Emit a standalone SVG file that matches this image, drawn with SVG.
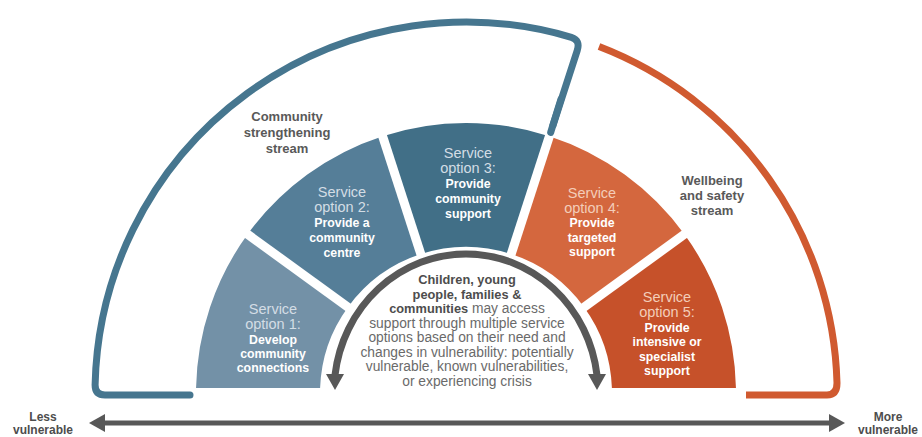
<svg xmlns="http://www.w3.org/2000/svg" width="922" height="437" viewBox="0 0 922 437">
  <style>
    text { font-family: "Liberation Sans", Arial, sans-serif; text-anchor: middle; }
    .lbl { font-size: 13px; font-weight: bold; fill: #595959; }
    .end { font-size: 12px; font-weight: bold; fill: #4d4d4d; }
    .svc { font-size: 14.5px; fill: #d3dde5; }
    .svc-o { font-size: 14.5px; fill: #f3cdb9; }
    .act { font-size: 12.3px; font-weight: bold; fill: #ffffff; }
    .mid { font-size: 13.8px; fill: #6a6a6a; }
    .midb { font-size: 12.8px; font-weight: bold; fill: #4d4d4d; }
    .gap { stroke: #ffffff; stroke-width: 9; }
  </style>

  <rect width="922" height="437" fill="#ffffff"/>

  <!-- stream outlines -->
  <g id="community-stream">
    <path d="M190 395 H105 Q95.1 395 95.1 385 A371 371 0 0 1 571.4 37.3 Q580.6 40.2 577.2 50.6 L550.7 132.4" fill="none" stroke="#46768f" stroke-width="7" stroke-linecap="round" stroke-linejoin="round"/>
    <text class="lbl" x="287" y="121">Community</text>
    <text class="lbl" x="287" y="137">strengthening</text>
    <text class="lbl" x="287" y="153">stream</text>
  </g>
  <g id="wellbeing-stream">
    <path d="M599 46.6 A371 371 0 0 1 837 383 Q837 395 827 395 H746" fill="none" stroke="#d05a30" stroke-width="7" stroke-linejoin="round"/>
    <text class="lbl" x="712" y="185">Wellbeing</text>
    <text class="lbl" x="712" y="200">and safety</text>
    <text class="lbl" x="712" y="215">stream</text>
  </g>

  <!-- service options -->
  <g id="option-1">
    <path d="M196.05 388 A270 270 0 0 1 247.6 234.3 L347.9 307.2 A146 146 0 0 0 320.1 388 Z" fill="#7391a7"/>
    <text class="svc" x="273" y="314">Service</text>
    <text class="svc" x="273" y="329">option 1:</text>
    <text class="act" x="273" y="344">Develop</text>
    <text class="act" x="273" y="358">community</text>
    <text class="act" x="273" y="372">connections</text>
  </g>
  <g id="option-2">
    <path d="M247.6 234.3 A270 270 0 0 1 382.6 136.2 L420.9 254.1 A146 146 0 0 0 347.9 307.2 Z" fill="#557e98"/>
    <text class="svc" x="342" y="197">Service</text>
    <text class="svc" x="342" y="212">option 2:</text>
    <text class="act" x="342" y="227">Provide a</text>
    <text class="act" x="342" y="242">community</text>
    <text class="act" x="342" y="257">centre</text>
  </g>
  <g id="option-3">
    <path d="M382.6 136.2 A270 270 0 0 1 549.4 136.2 L511.1 254.1 A146 146 0 0 0 420.9 254.1 Z" fill="#416f87"/>
    <text class="svc" x="468" y="158">Service</text>
    <text class="svc" x="468" y="173">option 3:</text>
    <text class="act" x="468" y="188">Provide</text>
    <text class="act" x="468" y="203">community</text>
    <text class="act" x="468" y="218">support</text>
  </g>
  <g id="option-4">
    <path d="M549.4 136.2 A270 270 0 0 1 684.4 234.3 L584.1 307.2 A146 146 0 0 0 511.1 254.1 Z" fill="#d4673e"/>
    <text class="svc-o" x="592" y="198">Service</text>
    <text class="svc-o" x="592" y="212.5">option 4:</text>
    <text class="act" x="592" y="227">Provide</text>
    <text class="act" x="592" y="241.5">targeted</text>
    <text class="act" x="592" y="256">support</text>
  </g>
  <g id="option-5">
    <path d="M684.4 234.3 A270 270 0 0 1 735.95 388 L611.9 388 A146 146 0 0 0 584.1 307.2 Z" fill="#c6512a"/>
    <text class="svc-o" x="667" y="302">Service</text>
    <text class="svc-o" x="667" y="317">option 5:</text>
    <text class="act" x="667" y="332">Provide</text>
    <text class="act" x="667" y="346">intensive or</text>
    <text class="act" x="667" y="361">specialist</text>
    <text class="act" x="667" y="375">support</text>
  </g>

  <!-- white gaps between the options -->
  <g id="gaps">
    <line class="gap" x1="352.7" y1="310.7" x2="239.5" y2="228.4"/>
    <line class="gap" x1="422.7" y1="259.9" x2="379.5" y2="126.7"/>
    <line class="gap" x1="509.3" y1="259.9" x2="552.5" y2="126.7"/>
    <line class="gap" x1="579.3" y1="310.7" x2="692.5" y2="228.4"/>
  </g>
  <!-- stream divider running into the gap between options 3 and 4 -->
  <path d="M561 99 L550.7 132.4" stroke="#46768f" stroke-width="7" stroke-linecap="round"/>

  <!-- central pathway -->
  <g id="pathway">
    <path d="M335 375 A132 138 0 0 1 597 375" fill="none" stroke="#585858" stroke-width="7"/>
    <polygon points="326,374 344,374 335,390" fill="#585858"/>
    <polygon points="588,374 606,374 597,390" fill="#585858"/>
    <text class="midb" x="467" y="284">Children, young</text>
    <text class="midb" x="467" y="298.5">people, families &amp;</text>
    <text class="mid" x="467" y="313"><tspan class="midb">communities</tspan> may access</text>
    <text class="mid" x="467" y="327.5">support through multiple service</text>
    <text class="mid" x="467" y="342">options based on their need and</text>
    <text class="mid" x="467" y="356.5">changes in vulnerability: potentially</text>
    <text class="mid" x="467" y="371">vulnerable, known vulnerabilities,</text>
    <text class="mid" x="467" y="385.5">or experiencing crisis</text>
  </g>

  <!-- vulnerability scale -->
  <g id="scale">
    <line x1="104" y1="423" x2="830" y2="423" stroke="#585858" stroke-width="5"/>
    <polygon points="89,423 105,414 105,432" fill="#585858"/>
    <polygon points="845,423 829,414 829,432" fill="#585858"/>
  </g>
  <g id="less-vulnerable">
    <text class="end" x="43" y="420.5">Less</text>
    <text class="end" x="43" y="434.3">vulnerable</text>
  </g>
  <g id="more-vulnerable">
    <text class="end" x="888" y="420.5">More</text>
    <text class="end" x="888" y="434.3">vulnerable</text>
  </g>
</svg>
